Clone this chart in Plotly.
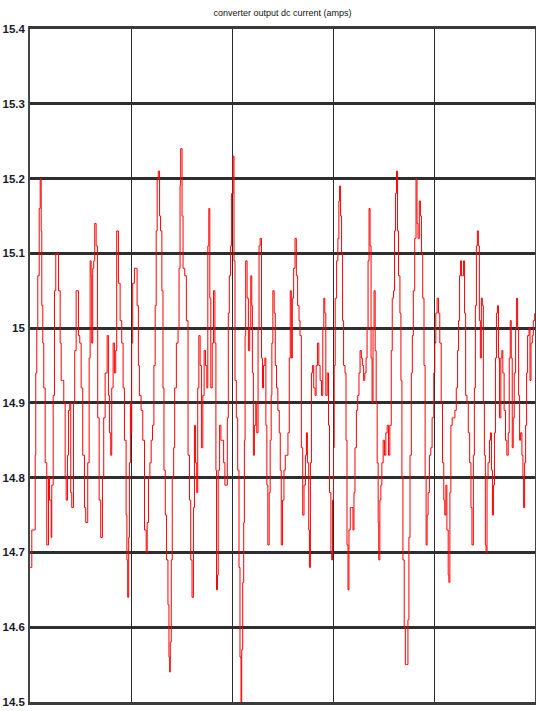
import plotly.graph_objects as go

title_text = "converter output dc current (amps)"

time_units = [
    0.2, 1.8, 4.5, 5.2, 5.8, 6.8, 7.8, 9.2, 10.2, 11.2, 11.8, 12.8, 13.8, 15.2, 16.8, 18.5, 19.5, 21.2, 21.8, 23.2,
    24.5, 25.8, 27.2, 28.5, 30.2, 31.2, 32.5, 33.8, 35.2, 36.2, 37.5, 38.5, 39.8, 40.8, 41.8, 43.5, 44.8, 46.2, 47.2, 48.5,
    49.8, 51.2, 52.8, 54.5, 55.8, 57.8, 59.2, 60.2, 61.2, 61.8, 62.8, 63.8, 64.8, 66.2, 67.5, 67.8, 69.2, 70.8, 72.5, 73.8,
    75.2, 77.2, 78.5, 79.5, 80.8, 81.8, 83.2, 84.5, 85.8, 86.8, 88.5, 90.2, 91.8, 93.2, 94.5, 96.2, 97.0, 97.8,
    98.8, 99.5, 100.5, 101.2, 101.8, 102.8, 104.5, 106.2, 107.2, 108.5, 109.5, 111.2, 112.9, 114.6, 116.3, 117.3, 118.6, 120.0,
    121.3, 122.6, 124.0, 125.3, 126.3, 127.3, 128.4, 129.7, 130.7, 132.0, 133.1, 134.1, 135.4, 136.7, 138.1, 139.1, 139.8, 140.4,
    141.4, 142.4, 143.8, 144.8, 146.5, 148.2, 149.2, 150.2, 150.8, 152.2, 153.2, 154.9, 156.5, 158.2, 159.6, 160.9, 162.2, 163.6,
    164.6, 165.6, 166.9, 167.9, 169.0, 170.3, 171.6, 173.0, 174.3, 175.7, 177.0, 178.0, 179.0, 180.0, 181.0, 182.4, 183.7, 185.1,
    186.1, 186.7, 187.7, 188.4, 189.8, 191.1, 192.4, 193.8, 195.1, 196.5, 197.5, 198.5, 199.5, 200.8, 201.8,
    203.2, 204.2, 205.2, 206.5, 207.9, 209.2, 210.2, 211.2, 211.9, 212.9, 213.9, 214.6, 215.3, 215.9, 217.3, 218.6, 219.9, 221.0,
    222.0, 222.6, 223.6, 224.6, 226.0, 227.0, 228.3, 229.3, 230.4, 231.7, 232.7, 233.7, 235.1, 236.1, 237.1, 238.1, 239.4, 240.4,
    241.4, 242.1, 243.1, 244.4, 245.5, 246.8, 248.1, 249.5, 250.5, 251.5, 252.8, 254.2, 255.5, 256.9, 258.2, 259.5, 260.5, 261.6,
    262.6, 263.9, 265.3, 266.6, 267.9, 269.3, 270.3, 271.6, 273.0, 274.3, 275.7, 276.7, 277.7, 279.0, 279.7, 280.7, 281.7, 282.7,
    284.0, 285.4, 286.4, 287.7, 289.1, 290.4, 291.8, 293.1, 294.1, 295.1, 296.1, 297.5, 298.8, 299.8, 301.2, 302.0,
    302.8, 303.8, 304.5, 305.5, 306.9, 308.2, 309.2, 309.9, 310.9, 311.9, 312.9, 313.9, 315.3, 316.3, 317.3, 318.3, 319.3, 320.6,
    322.0, 323.3, 324.3, 325.3, 326.7, 328.0, 329.3, 330.4, 331.7, 332.7, 334.0, 335.1, 336.4, 337.4, 338.4, 339.4, 340.4, 341.4,
    342.4, 343.4, 344.4, 345.5, 346.5, 347.5, 348.5, 349.1, 350.2, 351.2, 352.2, 353.5, 354.8, 356.2, 357.5, 358.9, 360.2, 361.6,
    362.6, 363.9, 364.9, 365.9, 366.9, 367.9, 368.9, 370.3, 371.3, 372.3, 373.3, 374.6, 375.7, 377.0, 378.3, 379.3, 380.4, 381.7,
    382.7, 383.7, 385.1, 386.4, 387.4, 388.4, 389.7, 390.8, 391.8, 393.1, 394.4, 395.5, 396.5, 397.5, 398.5, 399.8, 401.2, 402.5,
    404.2, 405.2, 406.2, 407.5, 408.9, 410.2, 411.6, 412.9, 414.2, 415.2, 416.3, 417.3, 418.6, 419.3, 420.3, 421.3, 422.6, 424.0,
    425.3, 426.7, 428.0, 429.0, 430.0, 431.0, 432.0, 433.0, 434.0, 435.0, 436.1, 437.4, 438.7, 440.1, 441.4, 442.4, 443.8, 444.8,
    445.8, 446.8, 447.8, 448.8, 449.8, 450.8, 451.8, 452.8, 453.8, 454.8, 455.8, 456.5, 457.5, 458.5, 459.9, 460.9, 461.9, 462.9,
    463.9, 464.9, 465.9, 466.9, 467.9, 468.9, 469.9, 471.3, 472.3, 473.3, 474.6, 476.0, 477.3, 478.7, 479.7, 480.7, 481.7, 482.7,
    483.7, 484.7, 486.1, 487.1, 488.1, 489.1, 490.1, 491.1, 492.4, 493.4, 494.1, 495.1, 496.1, 497.1, 498.1, 499.5, 500.5, 501.5,
    502.8, 503.8, 505.2,
]

current_amps = [
    14.68, 14.73, 14.73, 14.83, 14.94, 15.00, 15.07, 15.16, 15.20, 15.13, 15.03, 14.98, 14.92, 14.82, 14.71, 14.80, 14.77, 14.72, 14.79, 14.91,
    15.05, 15.10, 15.10, 15.05, 14.98, 14.93, 14.93, 14.90, 14.80, 14.77, 14.83, 14.89, 14.90, 14.78, 14.76, 14.90, 14.97, 15.05, 15.05, 14.99,
    14.98, 14.92, 14.83, 14.76, 14.74, 14.82, 14.96, 15.09, 15.07, 14.98, 15.08, 15.09, 15.14, 15.11, 15.00, 14.88, 14.77, 14.72, 14.80, 14.88,
    14.94, 14.99, 14.91, 14.86, 14.83, 14.92, 14.98, 14.94, 14.97, 15.13, 15.06, 15.01, 14.98, 14.92, 14.85, 14.75, 14.69, 14.64,
    14.72, 14.82, 14.90, 14.86, 14.98, 15.06, 15.08, 15.08, 15.03, 14.95, 14.91, 14.89, 14.85, 14.73, 14.70, 14.74, 14.80, 14.82,
    14.85, 14.87, 14.95, 15.03, 15.13, 15.20, 15.21, 15.15, 15.13, 15.05, 14.92, 14.81, 14.75, 14.69, 14.63, 14.56, 14.54, 14.58,
    14.69, 14.80, 14.84, 14.92, 14.98, 15.00, 15.08, 15.19, 15.24, 15.15, 15.08, 15.07, 15.01, 14.83, 14.77, 14.69, 14.64, 14.76,
    14.87, 14.82, 14.78, 14.92, 14.99, 14.95, 14.84, 14.91, 14.97, 14.95, 14.92, 15.11, 15.16, 15.04, 14.92, 14.98, 15.05, 14.98,
    14.81, 14.65, 14.67, 14.81, 14.87, 14.85, 14.85, 14.82, 14.79, 14.79, 14.88, 15.02, 15.07, 15.11, 15.18,
    15.23, 15.09, 14.93, 14.88, 14.81, 14.68, 14.56, 14.50, 14.57, 14.66, 14.74, 14.85, 14.99, 15.09, 15.04, 14.97, 15.00, 15.07,
    15.03, 14.94, 14.83, 14.87, 14.90, 14.86, 15.00, 15.11, 15.12, 14.96, 14.92, 14.95, 14.96, 14.87, 14.79, 14.71, 14.78, 14.85,
    14.91, 14.98, 15.05, 15.02, 14.95, 14.92, 14.89, 14.86, 14.81, 14.71, 14.77, 14.81, 14.83, 14.83, 14.86, 14.96, 15.05, 14.96,
    15.04, 15.08, 15.12, 15.07, 15.03, 15.01, 14.99, 14.84, 14.75, 14.79, 14.83, 14.86, 14.82, 14.73, 14.68, 14.82, 14.94, 14.95,
    14.92, 14.91, 14.95, 14.98, 14.95, 14.93, 14.91, 15.00, 15.04, 15.02, 14.91, 14.94, 14.87, 14.78, 14.70, 14.69,
    14.77, 14.84, 14.95, 15.04, 15.09, 15.12, 15.17, 15.19, 15.15, 15.10, 15.01, 14.95, 14.94, 14.85, 14.71, 14.65, 14.73, 14.76,
    14.76, 14.73, 14.78, 14.84, 14.89, 14.91, 14.94, 14.97, 14.96, 14.95, 14.93, 14.94, 14.96, 15.00, 15.09, 15.16, 15.11, 14.96,
    14.90, 15.00, 15.05, 14.97, 14.90, 14.82, 14.74, 14.69, 14.77, 14.79, 14.82, 14.85, 14.83, 14.86, 14.87, 14.83, 14.87, 14.97,
    15.04, 15.05, 15.13, 15.18, 15.21, 15.13, 15.07, 15.02, 14.93, 14.80, 14.69, 14.60, 14.55, 14.55, 14.61, 14.72, 14.83, 14.94,
    14.99, 15.05, 15.12, 15.20, 15.14, 15.12, 15.17, 15.15, 15.10, 15.04, 14.95, 14.80, 14.71, 14.75, 14.78, 14.83, 14.84, 14.88,
    14.94, 14.98, 15.02, 15.04, 15.02, 14.98, 14.90, 14.82, 14.77, 14.75, 14.79, 14.73, 14.67, 14.66, 14.78, 14.87, 14.88, 14.88,
    14.89, 14.92, 14.97, 15.01, 15.07, 15.09, 15.07, 15.07, 15.09, 15.02, 14.91, 14.90, 14.86, 14.82, 14.76, 14.71, 14.83, 14.92,
    15.03, 15.11, 15.13, 15.11, 15.01, 14.96, 15.04, 15.03, 14.90, 14.83, 14.71, 14.70, 14.80, 14.82, 14.85, 14.86, 14.81, 14.75,
    14.79, 14.86, 14.96, 15.02, 15.03, 14.96, 14.88, 14.96, 14.97, 14.94, 14.89, 14.85, 14.83, 14.86, 14.96, 15.01, 14.96, 14.84,
    14.88, 14.94, 15.00, 15.04, 15.00, 14.91, 14.85, 14.86, 14.83, 14.80, 14.76, 14.82, 14.87, 14.94, 14.99, 15.00, 14.93, 14.98,
    14.99, 15.01, 15.02,
]

y_tick_values = [14.5, 14.6, 14.7, 14.8, 14.9, 15.0, 15.1, 15.2, 15.3, 15.4]
y_tick_labels = ["14.5", "14.6", "14.7", "14.8", "14.9", "15", "15.1", "15.2", "15.3", "15.4"]
x_range = [0, 505.5]
y_range = [14.5, 15.4]

fig = go.Figure()
fig.add_trace(go.Scatter(
    x=time_units, y=current_amps, mode="lines",
    line=dict(color="#ff0000", width=1.0, shape="hv"),
    hoverinfo="skip", showlegend=False,
))

font_family = "Liberation Sans Narrow, Arial Narrow, Liberation Sans, Arial, sans-serif"

fig.update_layout(
    width=536, height=711,
    margin=dict(l=29.5, r=1, t=28.5, b=9, pad=0),
    paper_bgcolor="white", plot_bgcolor="white",
    title=dict(text=title_text, x=0.5, xref="paper", xanchor="center",
               y=1 - 13 / 711, yref="container", yanchor="middle",
               font=dict(family=font_family, size=9, color="#111")),
    showlegend=False,
)
fig.update_xaxes(
    range=x_range, tick0=0, dtick=101.1, showticklabels=False, ticks="",
    showgrid=True, gridcolor="#2b2b2b", gridwidth=1.2, zeroline=False,
    showline=True, linecolor="#3a3a3a", linewidth=2.5, mirror=True,
)
fig.update_yaxes(
    range=y_range, tickmode="array", tickvals=y_tick_values, ticktext=y_tick_labels,
    ticks="", ticklabelstandoff=1, automargin=False,
    tickfont=dict(family=font_family, size=11.5, color="#1a1a2a", weight="bold"),
    showgrid=True, gridcolor="#2e2e2e", gridwidth=2.6, zeroline=False,
    showline=True, linecolor="#444", linewidth=1.6, mirror=True,
)

fig.write_html(
    "out.html",
    config={"displayModeBar": False},
    post_script="document.body.style.margin='0';document.body.style.overflow='hidden';",
)
